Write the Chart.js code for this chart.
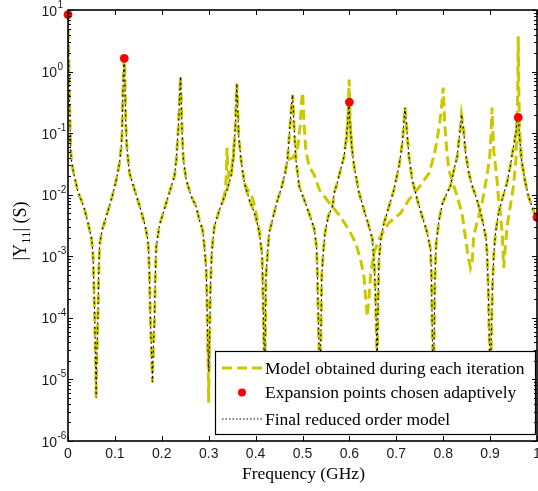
<!DOCTYPE html>
<html>
<head>
<meta charset="utf-8">
<script src="https://cdn.jsdelivr.net/npm/chart.js@4.4.1/dist/chart.umd.min.js"></script>
<style>
  html, body { margin: 0; padding: 0; background: #ffffff; }
  canvas { display: block; }
</style>
</head>
<body>
<canvas id="chart" width="538" height="491"></canvas>
<script>
// ---- axis ticks ----
const xTickValues = [0, 0.1, 0.2, 0.3, 0.4, 0.5, 0.6, 0.7, 0.8, 0.9, 1];
const xTickLabels = ['0', '0.1', '0.2', '0.3', '0.4', '0.5', '0.6', '0.7', '0.8', '0.9', '1'];
const yTickExponents = [1, 0, -1, -2, -3, -4, -5, -6];

// ---- series names ----
const seriesNames = [
  'Model obtained during each iteration',
  'Expansion points chosen adaptively',
  'Final reduced order model'
];

// ---- final reduced order model: frequency (GHz) and |Y11| (S) ----
const freqFinal = [
  0, 0.001, 0.002, 0.003, 0.0045, 0.006, 0.008, 0.012, 0.021, 0.0334, 0.0426, 0.0504, 0.0532, 0.0547, 0.057, 0.0583,
  0.0595, 0.06, 0.0605, 0.0617, 0.0638, 0.0653, 0.0674, 0.073, 0.0838, 0.0944, 0.103, 0.11, 0.1135, 0.115, 0.117, 0.1185,
  0.12, 0.121, 0.122, 0.1235, 0.1255, 0.131, 0.144, 0.156, 0.165, 0.17, 0.172, 0.174, 0.1755, 0.178, 0.1793, 0.18,
  0.1807, 0.182, 0.1845, 0.186, 0.188, 0.195, 0.206, 0.216, 0.227, 0.231, 0.2355, 0.238, 0.239,
  0.24, 0.241, 0.2434, 0.246, 0.252, 0.2625, 0.273, 0.28, 0.287, 0.291, 0.2945, 0.296, 0.298, 0.3, 0.302, 0.3035,
  0.305, 0.307, 0.312, 0.3228, 0.337, 0.3476, 0.353, 0.3568, 0.3585,
  0.36, 0.3615, 0.364, 0.369, 0.376, 0.3866, 0.4, 0.408, 0.4136, 0.415, 0.417, 0.419, 0.421, 0.422, 0.4255, 0.429,
  0.4377, 0.447, 0.456, 0.463, 0.468, 0.4717, 0.475, 0.477,
  0.479, 0.4805, 0.482, 0.486, 0.493, 0.5036, 0.514, 0.525, 0.53, 0.532, 0.534, 0.5375, 0.5395, 0.541, 0.544, 0.548,
  0.555, 0.564, 0.5675, 0.574, 0.5815, 0.5887, 0.592, 0.5957, 0.598,
  0.5994, 0.601, 0.605, 0.61, 0.6206, 0.631, 0.642, 0.649, 0.6526, 0.6555, 0.658, 0.659, 0.66, 0.6615, 0.663, 0.667,
  0.674, 0.6845, 0.695, 0.7057, 0.713, 0.716,
  0.7185, 0.7205, 0.7235, 0.727, 0.734, 0.7447, 0.755, 0.766, 0.773, 0.775, 0.7766, 0.779, 0.781, 0.7825, 0.785, 0.791,
  0.798, 0.805, 0.8157, 0.8227, 0.83, 0.8334, 0.837,
  0.839, 0.8415, 0.844, 0.8476, 0.855, 0.862, 0.872, 0.88, 0.8866, 0.8915, 0.8936, 0.896, 0.898, 0.9005, 0.903, 0.905,
  0.908, 0.9115, 0.918, 0.9255, 0.936, 0.943, 0.95, 0.955, 0.9575,
  0.96, 0.9615, 0.9626, 0.967, 0.974, 0.982, 0.989, 0.995, 1
];
const magFinal = [
  8.4, 3.0, 1.2, 0.45, 0.12, 0.05, 0.033, 0.0225, 0.0113, 0.0065, 0.0035, 0.0019, 0.0011, 0.00047, 0.0001, 0.000027,
  0.00001, 0.000005, 0.00001, 0.000027, 0.0001, 0.00047, 0.00155, 0.0027, 0.005, 0.0095, 0.0175, 0.033, 0.06, 0.089, 0.45, 1.1,
  1.65, 1.0, 0.4, 0.13, 0.06, 0.0225, 0.0107, 0.0054, 0.003, 0.0019, 0.0012, 0.0004, 0.0001, 0.00003, 0.000015, 0.000009,
  0.000015, 0.00003, 0.0001, 0.0004, 0.0014, 0.0032, 0.006, 0.0107, 0.02, 0.037, 0.13, 0.4, 0.6,
  0.83, 0.45, 0.1, 0.037, 0.0175, 0.0095, 0.0065, 0.0039, 0.0027, 0.0014, 0.00065, 0.00025, 0.00004, 0.0000135, 0.00005, 0.00025,
  0.0006, 0.0013, 0.003, 0.0057, 0.0107, 0.02, 0.042, 0.13, 0.35,
  0.64, 0.3, 0.089, 0.037, 0.0155, 0.0083, 0.0045, 0.0024, 0.0011, 0.00047, 0.00007, 0.00001, 0.00007, 0.00047, 0.0011, 0.0024,
  0.0045, 0.0083, 0.0137, 0.0227, 0.037, 0.089, 0.19, 0.3,
  0.42, 0.25, 0.13, 0.037, 0.0137, 0.0083, 0.005, 0.0028, 0.0014, 0.00047, 0.00007, 0.00001, 0.00007, 0.00047, 0.0011, 0.0024,
  0.0045, 0.0065, 0.0107, 0.0155, 0.026, 0.042, 0.07, 0.13, 0.24,
  0.31, 0.15, 0.061, 0.029, 0.0107, 0.0057, 0.003, 0.0019, 0.00087, 0.00025, 0.00004, 0.00001, 0.00004, 0.00025, 0.00087, 0.0019,
  0.0035, 0.0065, 0.012, 0.029, 0.07, 0.14,
  0.26, 0.18, 0.089, 0.042, 0.0175, 0.0083, 0.0045, 0.0024, 0.0013, 0.00047, 0.00007, 0.00001, 0.00007, 0.00047, 0.0016, 0.0038,
  0.007, 0.0095, 0.014, 0.025, 0.042, 0.075, 0.13,
  0.2, 0.15, 0.1, 0.048, 0.022, 0.0137, 0.0083, 0.005, 0.003, 0.0019, 0.0011, 0.00032, 0.00006, 0.00001, 0.00006, 0.00032,
  0.0011, 0.0024, 0.005, 0.0083, 0.0155, 0.029, 0.061, 0.1, 0.166,
  0.19, 0.13, 0.089, 0.037, 0.0175, 0.0093, 0.0065, 0.0049, 0.0043
];

// ---- intermediate models that depart from the final one ----
const freqIterShoulder = [0.33, 0.335, 0.3375, 0.339, 0.3405, 0.343, 0.347, 0.351, 0.355];
const magIterShoulder  = [0.0082, 0.011, 0.02, 0.058, 0.032, 0.02, 0.022, 0.035, 0.075];

const freqIterSide = [0.376, 0.383, 0.39, 0.396, 0.403, 0.41];
const magIterSide  = [0.0155, 0.012, 0.0105, 0.0075, 0.0042, 0.0022];

const freqIterWide = [
  0.468, 0.48, 0.49, 0.495, 0.498, 0.5, 0.502, 0.504, 0.507, 0.514, 0.525, 0.536, 0.557, 0.578, 0.599, 0.614,
  0.624, 0.631, 0.635, 0.638, 0.6415, 0.6455, 0.652, 0.663, 0.684, 0.709, 0.727, 0.748, 0.77, 0.781, 0.787, 0.795,
  0.7985, 0.8, 0.8015, 0.803, 0.807, 0.812, 0.83, 0.84, 0.848, 0.853, 0.858, 0.862, 0.865, 0.872, 0.883, 0.894,
  0.899, 0.902, 0.904, 0.906, 0.908, 0.911, 0.915, 0.918, 0.922, 0.926, 0.929, 0.932, 0.936, 0.943, 0.95, 0.955,
  0.9575, 0.959, 0.96, 0.9612, 0.9626, 0.967, 0.974
];
const magIterWide = [
  0.037, 0.04, 0.06, 0.13, 0.33, 0.46, 0.25, 0.12, 0.054, 0.029, 0.021, 0.012, 0.0074, 0.0047, 0.0027, 0.0016,
  0.00087, 0.00047, 0.0002, 0.000105, 0.0002, 0.00054, 0.0011, 0.0019, 0.0035, 0.005, 0.0083, 0.013, 0.0224, 0.045, 0.078, 0.2,
  0.4, 0.55, 0.3, 0.15, 0.06, 0.025, 0.0093, 0.005, 0.0019, 0.001, 0.00065, 0.00087, 0.0021, 0.0035, 0.0074, 0.022,
  0.04, 0.09, 0.26, 0.1, 0.05, 0.032, 0.017, 0.0083, 0.005, 0.0022, 0.00065, 0.0013, 0.003, 0.0065, 0.014, 0.037,
  0.166, 0.58, 3.75, 0.6, 0.12, 0.037, 0.0175
];

const freqIterPeak = [0.594, 0.597, 0.5985, 0.5994, 0.6005, 0.602, 0.605];
const magIterPeak  = [0.07, 0.16, 0.4, 0.74, 0.35, 0.14, 0.061];

const freqIterNotch = [0.298, 0.2993, 0.3, 0.3007, 0.302];
const magIterNotch  = [0.00004, 0.000012, 0.0000042, 0.000012, 0.00005];

// ---- expansion points ----
const freqExpansion = [0, 0.12, 0.6, 0.96, 1];
const magExpansion  = [8.4, 1.64, 0.32, 0.18, 0.0043];

const YELLOW = 'rgb(204,200,0)';
const SERIF = "'Liberation Serif', 'Times New Roman', serif";
const SANS = "'Liberation Sans', Arial, Helvetica, sans-serif";

const toPoints = (fs, ms) => fs.map((f, i) => ({ x: f, y: ms[i] }));

const iterStyle = {
  showLine: true, borderColor: YELLOW, borderWidth: 3, borderDash: [10, 5],
  pointRadius: 0, fill: false, tension: 0, order: 3
};

const datasets = [
  { label: seriesNames[1], data: toPoints(freqExpansion, magExpansion), showLine: false,
    pointRadius: 4.4, pointBackgroundColor: '#ff0000', pointBorderWidth: 0, order: 0, clip: false },
  { label: seriesNames[2], data: toPoints(freqFinal, magFinal), showLine: true,
    borderColor: '#000000', borderWidth: 1.1, borderDash: [2, 3], pointRadius: 0, tension: 0, order: 1 },
  Object.assign({ label: seriesNames[0], data: toPoints(freqFinal, magFinal) }, iterStyle),
  Object.assign({ label: '', data: toPoints(freqIterShoulder, magIterShoulder) }, iterStyle),
  Object.assign({ label: '', data: toPoints(freqIterSide, magIterSide) }, iterStyle),
  Object.assign({ label: '', data: toPoints(freqIterWide, magIterWide) }, iterStyle),
  Object.assign({ label: '', data: toPoints(freqIterPeak, magIterPeak) }, iterStyle),
  Object.assign({ label: '', data: toPoints(freqIterNotch, magIterNotch) }, iterStyle)
];

// Frame, inward ticks, tick labels, axis titles and the boxed legend.
const decorations = {
  id: 'decorations',
  afterDraw(chart) {
    const { ctx, chartArea: a, scales: { x, y } } = chart;
    ctx.save();

    // legend box
    const lx = 215, ly = 351, lw = 320, lh = 83;
    ctx.fillStyle = '#ffffff';
    ctx.fillRect(lx, ly, lw, lh);
    ctx.strokeStyle = '#000000';
    ctx.lineWidth = 1.2;
    ctx.setLineDash([]);
    ctx.strokeRect(lx + 0.5, ly + 0.5, lw, lh);

    const rows = [368, 392.5, 419];
    const sx0 = 222, sx1 = 262;
    // iteration sample
    const itDs = chart.data.datasets.find(d => d.label === seriesNames[0]);
    ctx.strokeStyle = itDs.borderColor;
    ctx.lineWidth = itDs.borderWidth;
    ctx.setLineDash(itDs.borderDash);
    ctx.beginPath(); ctx.moveTo(sx0, rows[0]); ctx.lineTo(sx1, rows[0]); ctx.stroke();
    // expansion point sample
    const epDs = chart.data.datasets.find(d => d.label === seriesNames[1]);
    ctx.setLineDash([]);
    ctx.fillStyle = epDs.pointBackgroundColor;
    ctx.beginPath(); ctx.arc((sx0 + sx1) / 2, rows[1], 4, 0, Math.PI * 2); ctx.fill();
    // final model sample
    const fmDs = chart.data.datasets.find(d => d.label === seriesNames[2]);
    ctx.strokeStyle = fmDs.borderColor;
    ctx.lineWidth = 1;
    ctx.setLineDash([1.5, 2]);
    ctx.beginPath(); ctx.moveTo(sx0, rows[2]); ctx.lineTo(sx1, rows[2]); ctx.stroke();
    ctx.setLineDash([]);

    ctx.fillStyle = '#000000';
    ctx.font = '17.5px ' + SERIF;
    ctx.textAlign = 'left';
    ctx.textBaseline = 'middle';
    seriesNames.forEach((name, i) => ctx.fillText(name, 265, rows[i] + 1));

    // inward ticks on all four sides
    ctx.strokeStyle = '#000000';
    ctx.lineWidth = 1;
    ctx.beginPath();
    xTickValues.forEach(v => {
      const px = Math.round(x.getPixelForValue(v)) + 0.5;
      ctx.moveTo(px, a.bottom); ctx.lineTo(px, a.bottom - 5);
      ctx.moveTo(px, a.top); ctx.lineTo(px, a.top + 5);
    });
    for (let e = -6; e <= 1; e++) {
      for (let m = 1; m <= 9; m++) {
        const v = m * Math.pow(10, e);
        if (v > 10.0001) break;
        const py = Math.round(y.getPixelForValue(v)) + 0.5;
        const len = m === 1 ? 5 : 3;
        ctx.moveTo(a.left, py); ctx.lineTo(a.left + len, py);
        ctx.moveTo(a.right, py); ctx.lineTo(a.right - len, py);
      }
    }
    ctx.stroke();

    // axes box
    ctx.lineWidth = 1.6;
    ctx.strokeRect(a.left, a.top, a.right - a.left, a.bottom - a.top);

    // x tick labels
    ctx.fillStyle = '#1a1a1a';
    ctx.font = '14px ' + SANS;
    ctx.textAlign = 'center';
    ctx.textBaseline = 'middle';
    xTickValues.forEach((v, i) => ctx.fillText(xTickLabels[i], x.getPixelForValue(v), 454));

    // y tick labels: 10 with a raised exponent
    yTickExponents.forEach(e => {
      const py = y.getPixelForValue(Math.pow(10, e));
      ctx.font = '14px ' + SANS;
      ctx.textAlign = 'right';
      ctx.textBaseline = 'alphabetic';
      ctx.fillText('10', 57, py + 5.5);
      ctx.font = '10px ' + SANS;
      ctx.textAlign = 'left';
      ctx.fillText(String(e), 57.5, py - 2);
    });

    // x axis title
    ctx.fillStyle = '#000000';
    ctx.font = '17.5px ' + SERIF;
    ctx.textAlign = 'center';
    ctx.textBaseline = 'middle';
    ctx.fillText('Frequency (GHz)', (a.left + a.right) / 2 + 1, 474);

    // y axis title |Y11| (S), rotated
    ctx.translate(26, 231);
    ctx.rotate(-Math.PI / 2);
    ctx.textAlign = 'left';
    ctx.textBaseline = 'alphabetic';
    const big = '18px ' + SERIF, small = '13px ' + SERIF;
    const parts = [['|Y', big, 0], ['11', small, 4], ['| (S)', big, 0]];
    let total = 0;
    parts.forEach(p => { ctx.font = p[1]; total += ctx.measureText(p[0]).width; });
    let cx = -total / 2;
    parts.forEach(p => {
      ctx.font = p[1];
      ctx.fillText(p[0], cx, p[2]);
      cx += ctx.measureText(p[0]).width;
    });

    ctx.restore();
  }
};

new Chart(document.getElementById('chart'), {
  type: 'scatter',
  data: { datasets },
  options: {
    responsive: false,
    animation: false,
    devicePixelRatio: 1,
    layout: { autoPadding: false, padding: { left: 68, right: 1, top: 10, bottom: 50 } },
    scales: {
      x: { type: 'linear', min: 0, max: 1, display: false },
      y: { type: 'logarithmic', min: 1e-6, max: 10, display: false }
    },
    plugins: {
      legend: { display: false },
      tooltip: { enabled: false }
    }
  },
  plugins: [decorations]
});
</script>
</body>
</html>
